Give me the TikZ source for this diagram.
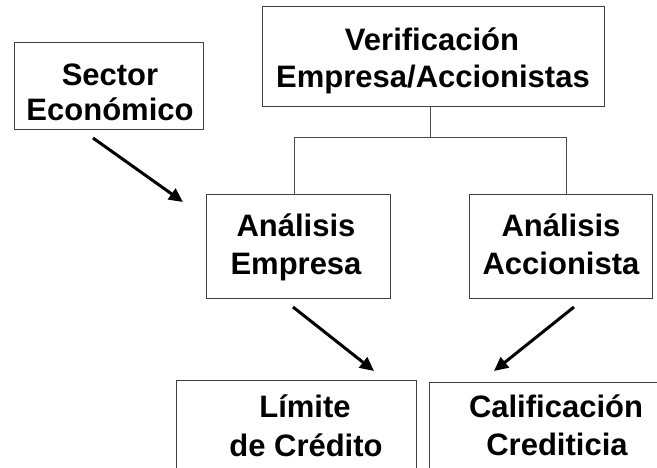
\documentclass[tikz,border=0pt]{standalone}
\usepackage{fontspec}
\setmainfont{Liberation Sans}
\usetikzlibrary{arrows.meta}
\begin{document}
\begin{tikzpicture}[x=1pt,y=-1pt,
  box/.style={draw=black!75, line width=1pt, inner sep=0pt},
  txt/.style={inner sep=0pt, anchor=base, font=\fontsize{31}{37}\selectfont\bfseries},
  tree/.style={draw=black!70, line width=1pt},
  arr/.style={draw=black, line width=3pt, -{Triangle[length=14pt,width=13pt]}}]
\useasboundingbox[fill=white] (0,0) rectangle (657,467);
% boxes
\node[box, minimum width=189pt, minimum height=87pt] (sector) at (108.5,85.5) {};
\node[box, minimum width=342pt, minimum height=100pt] (verif) at (433,56) {};
\node[box, minimum width=184pt, minimum height=104pt] (anemp) at (298,246) {};
\node[box, minimum width=183pt, minimum height=104pt] (anacc) at (561,246) {};
\node[box, minimum width=240pt, minimum height=120pt] (limite) at (296,440) {};
\node[box, minimum width=240pt, minimum height=120pt] (calif) at (549,442) {};
% texts
\node[txt] (t1a) at (110,85) {Sector};
\node[txt] (t1b) at (110,120) {Económico};
\node[txt] (t2a) at (432,50) {Verificación};
\node[txt] (t2b) at (433,87) {Empresa/Accionistas};
\node[txt] (t3a) at (296,236) {Análisis};
\node[txt] (t3b) at (296,274) {Empresa};
\node[txt] (t4a) at (561,236) {Análisis};
\node[txt] (t4b) at (561,274) {Accionista};
\node[txt] (t5a) at (305,417) {Límite};
\node[txt] (t5b) at (306,456) {de Crédito};
\node[txt] (t6a) at (556,417) {Calificación};
\node[txt] (t6b) at (557,455) {Crediticia};
% tree connector
\coordinate (j) at (430,137);
\coordinate (jl) at (294,137);
\coordinate (jr) at (566,137);
\draw[tree] (verif.south -| j) -- (j);
\draw[tree] (jl) -- (jr);
\draw[tree] (jl) -- (jl |- anemp.north);
\draw[tree] (jr) -- (jr |- anacc.north);
% arrows
\coordinate (a1s) at (93,138);
\coordinate (a1e) at (183,202);
\coordinate (a2s) at (293,307);
\coordinate (a2e) at (374,371);
\coordinate (a3s) at (574,307);
\coordinate (a3e) at (494,371);
\draw[arr] (a1s) -- (a1e);
\draw[arr] (a2s) -- (a2e);
\draw[arr] (a3s) -- (a3e);
\end{tikzpicture}
\end{document}
